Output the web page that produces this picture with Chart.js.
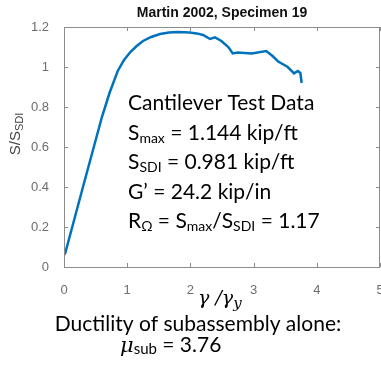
<!DOCTYPE html>
<html>
<head>
<meta charset="utf-8">
<script src="https://cdn.jsdelivr.net/npm/chart.js@4.4.0/dist/chart.umd.min.js"></script>
<style>
  html, body { margin: 0; padding: 0; background: #fff; }
  #wrap { width: 381px; height: 375px; }
</style>
</head>
<body>
<div id="wrap"><canvas id="myChart" width="381" height="375"></canvas></div>
<script>
// normalized shear strain vs normalized strength
const gammaRatio = [0, 0.02, 0.3, 0.6, 0.72, 0.85, 0.95, 1.05, 1.15, 1.25, 1.38, 1.52, 1.66, 1.8, 1.99, 2.1, 2.2, 2.31, 2.39, 2.49, 2.6, 2.67, 2.75, 2.97, 3.2, 3.3, 3.39, 3.54, 3.64, 3.7, 3.74, 3.76];
const strengthRatio = [0.06, 0.07, 0.4, 0.75, 0.87, 0.98, 1.035, 1.075, 1.105, 1.13, 1.15, 1.165, 1.172, 1.175, 1.172, 1.168, 1.16, 1.14, 1.148, 1.13, 1.1, 1.068, 1.073, 1.068, 1.08, 1.055, 1.027, 1.0, 0.968, 0.98, 0.97, 0.92];
const xTicks = [0, 1, 2, 3, 4, 5];
const yTicks = [0, 0.2, 0.4, 0.6, 0.8, 1, 1.2];
const yTickLabels = ['0', '0.2', '0.4', '0.6', '0.8', '1', '1.2'];

const calib = '"Lato", "Open Sans", sans-serif';

// draws a run of text pieces (text, font, y shift) left to right
function drawRich(ctx, x, y, parts) {
  parts.forEach(p => {
    ctx.font = p[1];
    ctx.fillText(p[0], x, y + (p[2] || 0));
    x += ctx.measureText(p[0]).width;
  });
}

function richWidth(ctx, parts) {
  let w = 0;
  parts.forEach(p => { ctx.font = p[1]; w += ctx.measureText(p[0]).width; });
  return w;
}

const frame = {
  id: 'frame',
  afterDraw(chart) {
    const ctx = chart.ctx;
    const a = chart.chartArea;
    const xs = chart.scales.x, ys = chart.scales.y;
    ctx.save();
    ctx.strokeStyle = '#8c8c8c';
    ctx.lineWidth = 1;
    ctx.strokeRect(a.left + 0.5, a.top + 0.5, a.right - a.left - 1, a.bottom - a.top);
    ctx.beginPath();
    xTicks.forEach(v => {
      const px = Math.round(xs.getPixelForValue(v)) + 0.5;
      ctx.moveTo(px, a.bottom); ctx.lineTo(px, a.bottom - 4);
      ctx.moveTo(px, a.top); ctx.lineTo(px, a.top + 4);
    });
    yTicks.forEach(v => {
      const py = Math.round(ys.getPixelForValue(v)) + 0.5;
      ctx.moveTo(a.left, py); ctx.lineTo(a.left + 4, py);
      ctx.moveTo(a.right, py); ctx.lineTo(a.right - 4, py);
    });
    ctx.stroke();

    // title
    ctx.fillStyle = '#111';
    ctx.textAlign = 'center';
    ctx.textBaseline = 'alphabetic';
    ctx.font = 'bold 14px "Liberation Sans", Arial, sans-serif';
    ctx.fillText('Martin 2002, Specimen 19', 222, 17);

    // y label
    ctx.save();
    ctx.translate(20, 134);
    ctx.rotate(-Math.PI / 2);
    ctx.textAlign = 'left';
    ctx.fillStyle = '#444';
    const yl = [['S/S', '15px "Liberation Sans", Arial, sans-serif', 0], ['SDI', '11px "Liberation Sans", Arial, sans-serif', 3]];
    drawRich(ctx, -richWidth(ctx, yl) / 2, 0, yl);
    ctx.restore();

    // annotation block
    ctx.textAlign = 'left';
    ctx.fillStyle = '#000';
    const big = '21px ' + calib, sub = '14px ' + calib;
    const x0 = 128, b0 = 110, dy = 29.5;
    drawRich(ctx, x0, b0, [['Cantilever Test Data', big]]);
    drawRich(ctx, x0, b0 + dy, [['S', big], ['max', sub, 3], [' = 1.144 kip/ft', big]]);
    drawRich(ctx, x0, b0 + 2 * dy, [['S', big], ['SDI', sub, 3], [' = 0.981 kip/ft', big]]);
    drawRich(ctx, x0, b0 + 3 * dy, [['G\u2019 = 24.2 kip/in', big]]);
    drawRich(ctx, x0, b0 + 4 * dy, [['R', big], ['\u03A9', sub, 3], [' = S', big], ['max', sub, 3], ['/S', big], ['SDI', sub, 3], [' = 1.17', big]]);

    // x label and notes below
    const it = 'italic 19px "DejaVu Serif", serif';
    const its = 'italic 15px "DejaVu Serif", serif';
    drawRich(ctx, 198, 304, [['\u03B3 /\u03B3', it], ['y', its, 4]]);
    ctx.textAlign = 'center';
    ctx.font = '21px ' + calib;
    ctx.fillText('Ductility of subassembly alone:', 198, 331);
    ctx.textAlign = 'left';
    drawRich(ctx, 120, 352, [['\u03BC', 'italic 21px "DejaVu Serif", serif'], ['sub', '15px ' + calib, 2], [' = 3.76', '21px ' + calib]]);
    ctx.restore();
  }
};

new Chart(document.getElementById('myChart').getContext('2d'), {
  type: 'scatter',
  data: {
    datasets: [{
      data: gammaRatio.map((g, i) => ({ x: g, y: strengthRatio[i] })),
      showLine: true,
      borderColor: '#0072BD',
      borderWidth: 2.5,
      pointRadius: 0,
      tension: 0,
      fill: false
    }]
  },
  options: {
    responsive: false,
    animation: false,
    layout: { padding: { top: 27, right: 1, left: 0, bottom: 0 } },
    plugins: { legend: { display: false }, tooltip: { enabled: false }, title: { display: false } },
    scales: {
      x: {
        type: 'linear', min: 0, max: 5,
        afterBuildTicks: s => { s.ticks = xTicks.map(v => ({ value: v })); },
        grid: { display: false }, border: { display: false },
        ticks: { padding: 8, color: '#6e6e6e', font: { family: '"Liberation Sans", Arial, sans-serif', size: 13 } },
        afterFit: s => { s.height = 108; s.paddingLeft = 0; s.paddingRight = 0; }
      },
      y: {
        type: 'linear', min: 0, max: 1.2,
        afterBuildTicks: s => { s.ticks = yTicks.map(v => ({ value: v })); },
        grid: { display: false }, border: { display: false },
        ticks: { padding: 7, color: '#6e6e6e', font: { family: '"Liberation Sans", Arial, sans-serif', size: 13 },
          callback: (v, i) => yTickLabels[i] },
        afterFit: s => { s.width = 64; s.paddingTop = 0; s.paddingBottom = 0; }
      }
    }
  },
  plugins: [frame]
});
</script>
</body>
</html>
